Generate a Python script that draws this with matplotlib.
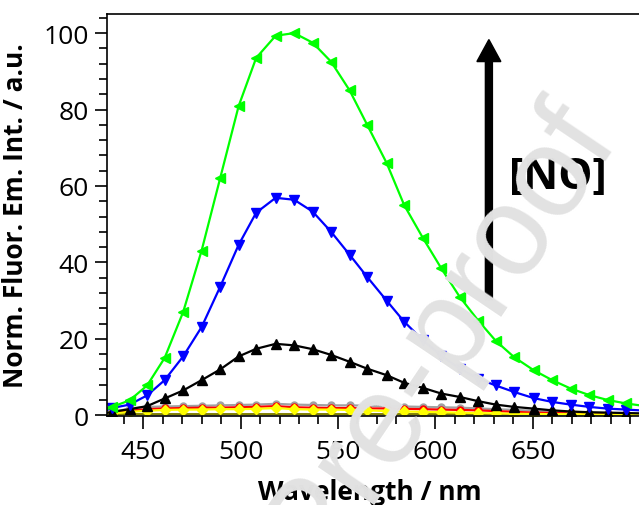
import numpy as np
import matplotlib
matplotlib.use("Agg")
import matplotlib.pyplot as plt
from matplotlib.ticker import MultipleLocator

# Emission spectra recorded with increasing [NO]
wavelength = [431, 434, 443, 452, 461, 470.5, 480, 489.5, 499, 508, 518, 527.5, 537,
              546.5, 556, 565, 575, 584, 593.5, 603, 612.5, 622, 631, 640.5, 650.5,
              660, 669.5, 679, 688.5, 698, 705]

int_olive = [0.2, 0.2, 0.3, 0.3, 0.3, 0.3, 0.3, 0.3, 0.3, 0.3, 0.3, 0.3, 0.3,
             0.3, 0.3, 0.3, 0.3, 0.3, 0.3, 0.3, 0.3, 0.3, 0.3, 0.3, 0.3,
             0.3, 0.3, 0.3, 0.3, 0.3, 0.3]
int_gray = [0.5, 0.8, 1.8, 2.2, 2.3, 2.4, 2.5, 2.6, 2.7, 2.8, 3.0, 2.8, 2.7,
            2.6, 2.6, 2.5, 2.4, 2.3, 2.2, 2.1, 2.0, 1.8, 1.6, 1.4, 1.2,
            1.0, 0.8, 0.7, 0.6, 0.5, 0.5]
int_red = [0.4, 0.7, 1.2, 1.6, 1.8, 1.9, 2.0, 2.0, 2.1, 2.2, 2.4, 2.1, 2.0,
           1.9, 1.9, 1.8, 1.8, 1.7, 1.6, 1.5, 1.4, 1.3, 1.1, 0.9, 0.7,
           0.6, 0.5, 0.4, 0.3, 0.3, 0.3]
int_yellow = [0.3, 0.5, 0.9, 1.2, 1.4, 1.5, 1.5, 1.6, 1.6, 1.7, 1.9, 1.6, 1.5,
              1.5, 1.4, 1.3, 1.1, 1.0, 0.9, 0.8, 0.7, 0.6, 0.5, 0.4, 0.35,
              0.3, 0.3, 0.25, 0.2, 0.2, 0.2]
int_black = [0.6, 0.9, 1.6, 2.4, 4.4, 6.5, 9.2, 12.0, 15.4, 17.4, 18.7, 18.3, 17.3,
             15.8, 14.0, 12.2, 10.5, 8.5, 7.2, 5.7, 4.8, 3.7, 2.8, 2.2, 1.75,
             1.3, 1.0, 0.8, 0.7, 0.6, 0.5]
int_blue = [1.3, 1.9, 2.8, 5.2, 9.2, 15.4, 23.1, 33.6, 44.6, 53.0, 56.9, 56.4, 53.3,
            48.0, 42.0, 36.2, 30.0, 24.5, 19.7, 15.6, 12.2, 9.6, 7.8, 6.1, 4.5,
            3.5, 2.8, 2.2, 1.75, 1.5, 1.3]
int_green = [1.5, 2.2, 3.9, 7.8, 15.0, 27.0, 43.1, 62.0, 80.9, 93.5, 99.3, 100.0, 97.5,
             92.5, 85.0, 76.0, 66.0, 55.0, 46.5, 38.5, 31.0, 24.8, 19.5, 15.2, 11.8,
             9.2, 7.0, 5.3, 4.0, 3.1, 2.6]

x_ticks = [450, 500, 550, 600, 650]
y_ticks = [0, 20, 40, 60, 80, 100]

plt.rcParams["font.family"] = ["Open Sans", "DejaVu Sans"]

fig = plt.figure(figsize=(6.39, 5.06), dpi=100)
ax = fig.add_axes([0.1674, 0.1765, 0.84, 0.7939])

marks = slice(1, -1)
series = [
    (int_olive, "#808000", None),
    (int_gray, "#a0a0a0", "o"),
    (int_red, "#ff0000", "o"),
    (int_yellow, "#ffff00", "D"),
    (int_black, "#000000", "^"),
    (int_blue, "#0000ff", "v"),
    (int_green, "#00ff00", "<"),
]
for vals, col, mk in series:
    ax.plot(wavelength, vals, color=col, lw=1.6, marker=mk, ms=6.5 if mk not in ("o", "D") else 5,
            markevery=marks, mec=col, mfc=col)

ax.set_xlim(431.4, 707)
ax.set_ylim(-0.1, 105)
ax.set_xticks(x_ticks)
ax.set_yticks(y_ticks)
ax.xaxis.set_minor_locator(MultipleLocator(10))
ax.yaxis.set_minor_locator(MultipleLocator(4))
ax.tick_params(which="major", direction="out", length=9, width=1.2, labelsize=19, pad=4)
ax.tick_params(axis="x", which="major", pad=8)
ax.tick_params(which="minor", direction="out", length=5.5, width=1.2)
ax.spines["right"].set_visible(False)
for s in ("left", "bottom", "top"):
    ax.spines[s].set_linewidth(1.2)

ax.set_ylabel("Norm. Fluor. Em. Int. / a.u.", fontsize=18.9, fontweight="bold")
ax.yaxis.set_label_coords(-0.145, 0.5)
ax.set_xlabel("Wavelength / nm", fontsize=19, fontweight="bold")
ax.xaxis.set_label_coords(0.49, -0.155)

# increasing [NO] arrow
ax.arrow(627.5, 30.2, 0, 68.1, width=3.6, head_width=12.3, head_length=5.75,
         length_includes_head=True, color="black", zorder=5)
ax.text(662.7, 62.4, "[NO]", fontsize=31, fontweight="bold", ha="center", va="center", zorder=5)

fig.text(0.496, -0.051, "Journal Pre-proof", fontsize=92, family="Liberation Sans",
         color="#e2e2e2", rotation=56, rotation_mode="anchor", ha="center", va="center",
         zorder=10)

fig.savefig("out.png", dpi=100)
